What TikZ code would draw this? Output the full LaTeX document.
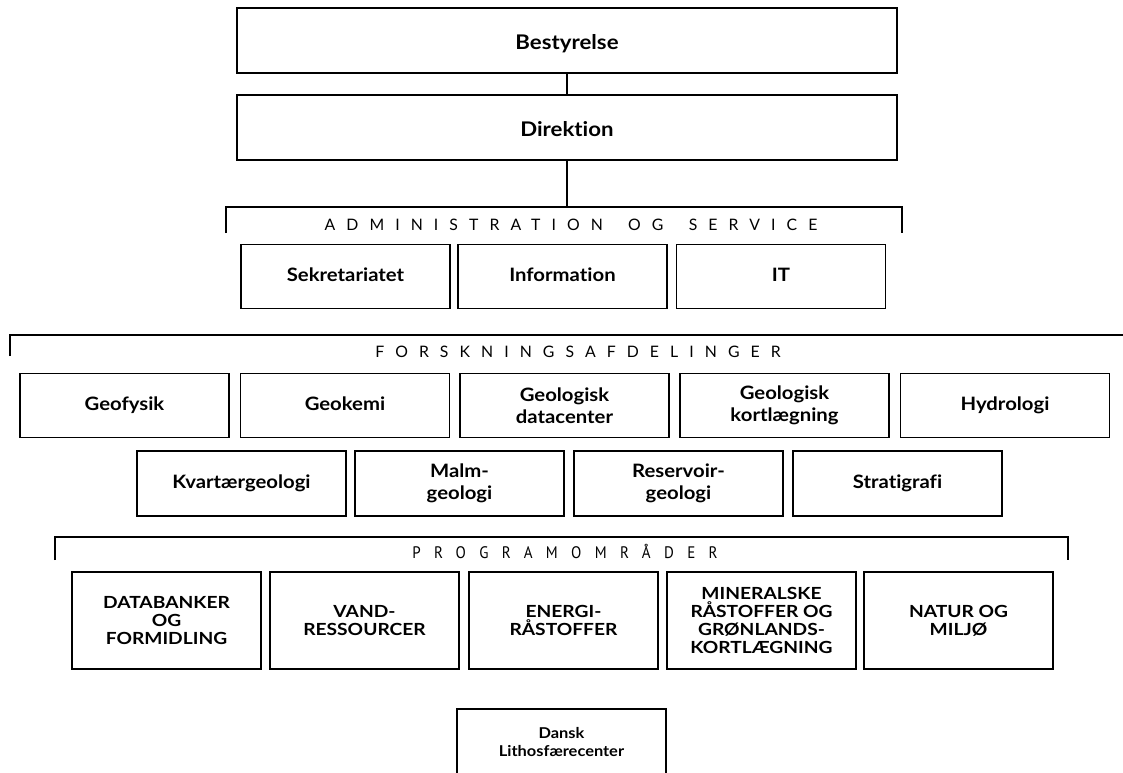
\documentclass[tikz,border=0pt]{standalone}
\usepackage{fontspec}
\setmainfont{Lato}[Ligatures=NoCommon]
\newfontfamily\boxfont{Lato}[FakeStretch=1.1, Ligatures=NoCommon]
\newfontfamily\progfont{Lato}[FakeStretch=1.15, Ligatures=NoCommon]
\newfontfamily\condfont{PT Sans}[FakeStretch=0.9]
\usetikzlibrary{positioning}

\begin{document}
\begin{tikzpicture}
[x=0.02cm, y=-0.02cm,
   box/.style={draw, line width=0.8pt, minimum width=4.18cm, minimum height=1.27cm,
     align=center, font=\boxfont\bfseries\fontsize{10.5}{12.5}\selectfont},
   one/.style={text height=1.6ex, text depth=0.45ex},
   top/.style={box, text height=2ex, text depth=0pt, minimum width=13.2cm, minimum height=1.3cm,
     font=\boxfont\bfseries\fontsize{11.5}{13}\selectfont},
   prog/.style={box, minimum width=3.78cm, minimum height=1.94cm,
     font=\progfont\bfseries\fontsize{9.5}{10.3}\selectfont},
   head/.style={font=\addfontfeature{LetterSpace=70}\fontsize{9}{10}\selectfont},
   bracket/.style={line width=1.4pt},
   link/.style={line width=1.2pt}]
\useasboundingbox (0,0) rectangle (1123,772);

\node[top] (best) at (567,40.5) {Bestyrelse};
\node[top] (dir) at (567,127.5) {Direktion};
\draw[link] (best) -- (dir);

\coordinate (admtop) at (567,207);
\draw[link] (dir) -- (admtop);
\coordinate (adml) at (226,207);
\coordinate (admr) at (902,207);
\draw[bracket] ([yshift=-0.52cm]adml) -- (adml) -- (admr) -- ([yshift=-0.52cm]admr);
\node[head] (admlab) at (571,225) {ADMINISTRATION\rule{1.6em}{0pt}OG\rule{1.6em}{0pt}SERVICE};

\node[box, one] (sek) at (345.5,276.5) {Sekretariatet};
\node[box, one] (info) at (562.5,276.5) {Information};
\node[box, one] (it) at (781,276.5) {IT};

\coordinate (forl) at (10,335);
\coordinate (forr) at (1130,335);
\draw[bracket] ([yshift=-0.42cm]forl) -- (forl) -- (forr);
\node[head] (forlab) at (578,352) {FORSKNINGSAFDELINGER};

\node[box, one] (geof) at (124.5,405.5) {Geofysik};
\node[box, one] (geok) at (345,405.5) {Geokemi};
\node[box] (gdc) at (564.5,405.5) {Geologisk\\datacenter};
\node[box] (gkort) at (784.5,405.5) {Geologisk\\kortlægning};
\node[box, one] (hyd) at (1005,405.5) {Hydrologi};

\node[box, one, minimum height=1.3cm] (kvar) at (241.5,483.5) {Kvartærgeologi};
\node[box, minimum height=1.3cm] (malm) at (459.5,483.5) {Malm-\\geologi};
\node[box, minimum height=1.3cm] (res) at (678.5,483.5) {Reservoir-\\geologi};
\node[box, one, minimum height=1.3cm] (strat) at (897.5,483.5) {Stratigrafi};

\coordinate (progl) at (55,537);
\coordinate (progr) at (1068,537);
\draw[bracket] ([yshift=-0.46cm]progl) -- (progl) -- (progr) -- ([yshift=-0.46cm]progr);
\node[font=\condfont\addfontfeature{LetterSpace=80}\fontsize{9.5}{10}\selectfont]
  (proglab) at (565,551) {PROGRAMOMRÅDER};

\node[prog] (data) at (166.5,620.5) {DATABANKER\\OG\\FORMIDLING};
\node[prog] (vand) at (364.5,620.5) {VAND-\\RESSOURCER};
\node[prog] (energi) at (563.5,620.5) {ENERGI-\\RÅSTOFFER};
\node[prog] (miner) at (761.5,620.5) {MINERALSKE\\RÅSTOFFER OG\\GRØNLANDS-\\KORTLÆGNING};
\node[prog] (natur) at (958.5,620.5) {NATUR OG\\MILJØ};

\node[box, minimum height=1.32cm, font=\boxfont\bfseries\fontsize{8.5}{10}\selectfont]
  (dlc) at (561.5,742) {Dansk\\Lithosfærecenter};
\end{tikzpicture}
\end{document}
